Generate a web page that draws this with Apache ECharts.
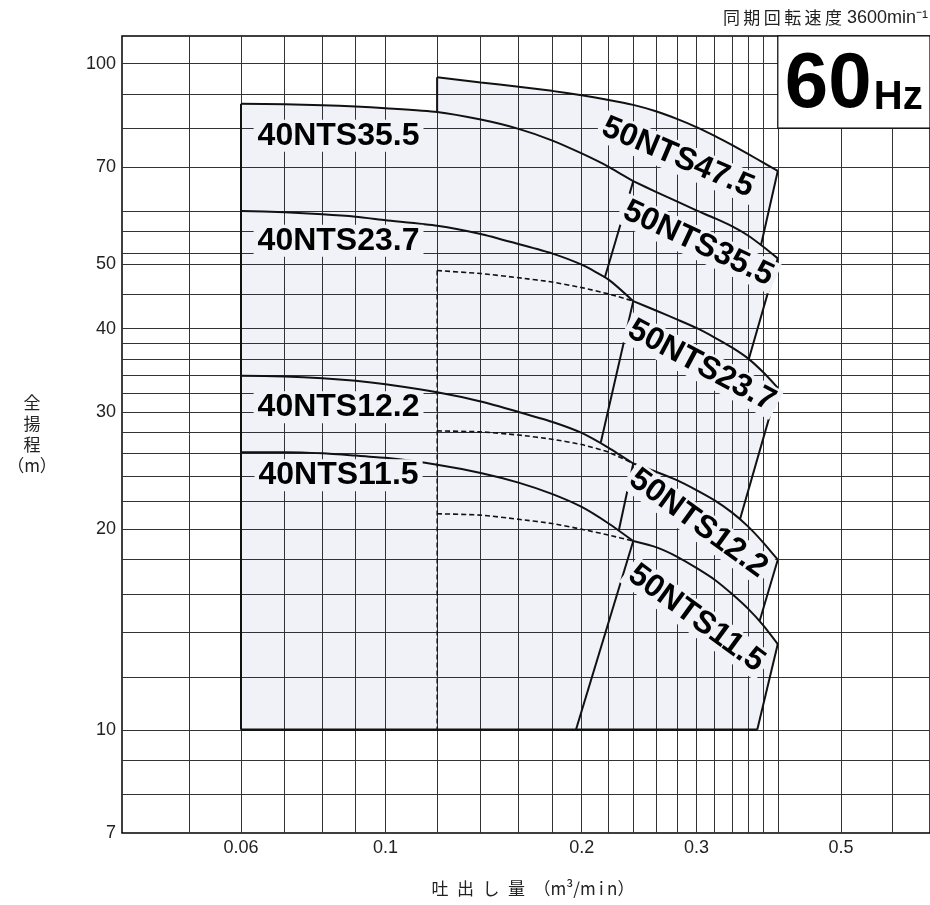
<!DOCTYPE html>
<html lang="ja">
<head>
<meta charset="utf-8">
<title>40NTS / 50NTS 性能曲線 60Hz</title>
<script src="https://cdn.jsdelivr.net/npm/echarts@6.0.0/dist/echarts.min.js"></script>
<style>
  html, body { margin: 0; padding: 0; background: #fff; }
  #chart { width: 930px; height: 905px; }
</style>
</head>
<body>
<div id="chart"></div>
<script>
// 目盛りラベル
const xLabelValues = [0.06, 0.1, 0.2, 0.3, 0.5];
const yLabelValues = [7, 10, 20, 30, 40, 50, 70, 100];

// 目盛り線
const xGridValues = [0.05, 0.06, 0.07, 0.08, 0.09, 0.1, 0.12, 0.14, 0.16, 0.18, 0.2,
  0.22, 0.24, 0.26, 0.28, 0.3, 0.32, 0.34, 0.36, 0.38, 0.4, 0.5, 0.6];
const yGridValues = [8, 9, 10, 12, 14, 16, 18, 20, 22, 24, 26, 28, 30, 32, 34, 36, 38,
  40, 45, 50, 52, 56, 60, 70, 80, 90, 100];

// 40NTS 性能曲線（吐出し量 m3/min → 全揚程 m）
const q40 = [0.06, 0.07, 0.08, 0.09, 0.1, 0.12, 0.14, 0.16, 0.18, 0.2, 0.22, 0.24];
const h40nts355 = [87.0, 86.9, 86.6, 86.2, 85.7, 84.6, 82.4, 79.8, 76.7, 73.3, 70.0, 66.6];
const h40nts237 = [60.1, 59.8, 59.4, 58.9, 58.2, 57.1, 55.5, 53.6, 51.9, 49.9, 47.4, 44.0];
const h40nts122 = [34.0, 33.9, 33.7, 33.4, 33.0, 32.1, 31.1, 30.0, 29.0, 27.9, 26.5, 25.1];
const h40nts115 = [26.1, 26.1, 26.0, 25.8, 25.6, 25.0, 24.3, 23.5, 22.6, 21.6, 20.4, 19.2];

// 50NTS47.5
const q475 = [0.12, 0.14, 0.16, 0.18, 0.2, 0.22, 0.24, 0.26, 0.28, 0.3, 0.32, 0.34, 0.36, 0.38, 0.4];
const h50nts475 = [95.4, 93.7, 92.3, 91.0, 89.6, 88.2, 86.7, 84.8, 82.6, 80.3, 77.9, 75.5, 73.2, 71.0, 69.0];

// 50NTS 性能曲線（実線部分）
const q50 = [0.24, 0.26, 0.28, 0.3, 0.32, 0.34, 0.36, 0.38, 0.4];
const h50nts355 = [66.6, 64.2, 62.1, 60.2, 58.6, 57.0, 55.2, 53.1, 51.0];
const h50nts237 = [44.0, 42.6, 41.3, 40.1, 38.8, 37.5, 36.1, 34.4, 32.6];
const h50nts122 = [25.1, 24.4, 23.7, 22.9, 22.1, 21.2, 20.2, 19.1, 18.0];
const h50nts115 = [19.2, 18.8, 18.2, 17.5, 16.8, 16.0, 15.2, 14.35, 13.45];

// 50NTS 性能曲線（破線部分）
const qDash = [0.12, 0.14, 0.16, 0.18, 0.2, 0.22, 0.24];
const h50nts237Dash = [48.9, 48.4, 47.7, 47.0, 46.1, 45.1, 44.0];
const h50nts122Dash = [28.1, 28.0, 27.7, 27.3, 26.8, 26.1, 25.1];
const h50nts115Dash = [21.1, 21.0, 20.7, 20.4, 20.0, 19.6, 19.2];

// 使用範囲の境界線
const edge40Left = [[0.06, 10], [0.06, 87.0]];
const edge475Left = [[0.12, 84.6], [0.12, 95.4]];
const edgeDashLeft = [[0.12, 48.9], [0.12, 10]];
const edgeBottom = [[0.06, 10], [0.372, 10]];
const edge40nts355 = [[0.24, 66.6], [0.217, 47.7]];
const edge40nts237 = [[0.24, 44.0], [0.214, 27.0]];
const edge40nts122 = [[0.24, 25.1], [0.228, 19.9]];
const edge40nts115 = [[0.24, 19.2], [0.196, 10]];
const edge50nts475 = [[0.4, 69.0], [0.377, 53.4]];
const edge50nts355 = [[0.4, 51.0], [0.361, 36.0]];
const edge50nts237 = [[0.4, 32.6], [0.35, 20.7]];
const edge50nts122 = [[0.4, 18.0], [0.375, 14.55]];
const edge50nts115 = [[0.4, 13.45], [0.372, 10]];

// 機種名の配置
const modelLabels = [
  { name: '40NTS35.5', q: 0.0847, h: 77.9, rotate: 0 },
  { name: '40NTS23.7', q: 0.0847, h: 54.2, rotate: 0 },
  { name: '40NTS12.2', q: 0.0847, h: 30.5, rotate: 0 },
  { name: '40NTS11.5', q: 0.0847, h: 24.1, rotate: 0 },
  { name: '50NTS47.5', q: 0.281, h: 72.3, rotate: -23 },
  { name: '50NTS35.5', q: 0.302, h: 53.7, rotate: -25 },
  { name: '50NTS23.7', q: 0.3055, h: 35.2, rotate: -28 },
  { name: '50NTS12.2', q: 0.302, h: 20.4, rotate: -36 },
  { name: '50NTS11.5', q: 0.300, h: 14.7, rotate: -36 }
];

const X_MIN = 0.0394, X_MAX = 0.685;
const Y_MIN = 7, Y_MAX = 110;
const FILL = '#f1f2f8';
const LATIN = '"Liberation Sans", Arial, sans-serif';
const CJK = '"Noto Sans CJK JP", sans-serif';

const pairs = (q, h) => q.map((v, i) => [v, h[i]]);

// 塗りつぶし範囲の外形
function buildOutline() {
  const pts = [[0.06, 10]];
  q40.forEach((q, i) => { if (q <= 0.12) pts.push([q, h40nts355[i]]); });
  q475.forEach((q, i) => pts.push([q, h50nts475[i]]));
  const steps = [
    [edge50nts475, h50nts355],
    [edge50nts355, h50nts237],
    [edge50nts237, h50nts122],
    [edge50nts122, h50nts115]
  ];
  steps.forEach(([edge, h]) => {
    pts.push(edge[1]);
    q50.forEach((q, i) => { if (q > edge[1][0]) pts.push([q, h[i]]); });
  });
  pts.push(edge50nts115[1]);
  return pts;
}
const outline = buildOutline();

const solidLine = (data, width) => ({
  type: 'line', data: data, showSymbol: false, symbol: 'none', silent: true,
  smooth: 0.2, z: 4,
  lineStyle: { color: '#111', width: width || 2 }
});
const dashLine = (data) => ({
  type: 'line', data: data, showSymbol: false, symbol: 'none', silent: true,
  smooth: 0.2, z: 4,
  lineStyle: { color: '#111', width: 1.6, type: [5, 3] }
});
const edgeLine = (data, width) => ({
  type: 'line', data: data, showSymbol: false, symbol: 'none', silent: true, z: 4,
  lineStyle: { color: '#111', width: width || 2 }
});

const chart = echarts.init(document.getElementById('chart'), null, { renderer: 'canvas' });

const option = {
  animation: false,
  backgroundColor: '#fff',
  textStyle: { fontFamily: LATIN },
  grid: {
    left: 122, right: 0, top: 36, bottom: 72,
    show: true, borderColor: '#000', borderWidth: 1.5, backgroundColor: 'transparent'
  },
  xAxis: {
    type: 'log', logBase: 10, min: X_MIN, max: X_MAX,
    name: '吐\u2002出\u2002し\u2002量\u2002（m³/m\u2009i\u2009n）',
    nameLocation: 'middle', nameGap: 47,
    nameTextStyle: { fontFamily: CJK, fontSize: 17, color: '#222', padding: [0, 0, 0, 14] },
    axisLine: { show: false },
    axisTick: { show: false, customValues: xGridValues },
    axisLabel: {
      customValues: xLabelValues, margin: 6, fontSize: 18, color: '#222', fontFamily: LATIN,
      formatter: v => String(Math.round(v * 1000) / 1000)
    },
    splitLine: { show: true, lineStyle: { color: '#333', width: 1 } },
    minorTick: { show: false }, minorSplitLine: { show: false }
  },
  yAxis: {
    type: 'log', logBase: 10, min: Y_MIN, max: Y_MAX,
    name: '全\n揚\n程\n（m）',
    nameLocation: 'middle', nameRotate: 0, nameGap: 90,
    nameTextStyle: {
      fontFamily: CJK, fontSize: 17, lineHeight: 21, color: '#222',
      align: 'center', verticalAlign: 'middle'
    },
    axisLine: { show: false },
    axisTick: { show: false, customValues: yGridValues },
    axisLabel: {
      customValues: yLabelValues, margin: 6, fontSize: 18, color: '#222', fontFamily: LATIN,
      formatter: v => String(Math.round(v))
    },
    splitLine: { show: true, lineStyle: { color: '#333', width: 1 } },
    minorTick: { show: false }, minorSplitLine: { show: false }
  },
  graphic: [{
    type: 'text', right: 2, top: 9, silent: true,
    style: {
      text: '{j|同\u2009期\u2009回\u2009転\u2009速\u2009度}{n|\u00a03600min⁻¹}',
      rich: {
        j: { fontFamily: CJK, fontSize: 17, fill: '#222' },
        n: { fontFamily: LATIN, fontSize: 18, fill: '#222' }
      }
    }
  }],
  series: [
    // 使用範囲の塗り
    {
      type: 'custom', silent: true, z: 1,
      data: outline,
      renderItem: (params, api) => {
        if (params.dataIndex !== 0) return null;
        return {
          type: 'polygon',
          shape: { points: outline.map(p => api.coord(p)) },
          style: { fill: 'rgba(15, 31, 134, 0.058)', stroke: null }
        };
      }
    },
    // 性能曲線
    solidLine(pairs(q40, h40nts355)),
    solidLine(pairs(q40, h40nts237)),
    solidLine(pairs(q40, h40nts122)),
    solidLine(pairs(q40, h40nts115)),
    solidLine(pairs(q475, h50nts475)),
    solidLine(pairs(q50, h50nts355)),
    solidLine(pairs(q50, h50nts237)),
    solidLine(pairs(q50, h50nts122)),
    solidLine(pairs(q50, h50nts115)),
    dashLine(pairs(qDash, h50nts237Dash)),
    dashLine(pairs(qDash, h50nts122Dash)),
    dashLine(pairs(qDash, h50nts115Dash)),
    // 境界線
    edgeLine(edge40Left),
    edgeLine(edge475Left),
    {
      type: 'line', data: edgeDashLeft, showSymbol: false, symbol: 'none', silent: true, z: 4,
      lineStyle: { color: '#111', width: 1.4, type: [5, 3] }
    },
    edgeLine(edgeBottom, 2.5),
    edgeLine(edge40nts355),
    edgeLine(edge40nts237),
    edgeLine(edge40nts122),
    edgeLine(edge40nts115),
    edgeLine(edge50nts475),
    edgeLine(edge50nts355),
    edgeLine(edge50nts237),
    edgeLine(edge50nts122),
    edgeLine(edge50nts115),
    // 60Hz 表示枠
    {
      type: 'custom', silent: true, z: 6,
      data: [[0.4, 80]],
      renderItem: (params, api) => {
        const p0 = api.coord([0.4, Y_MAX]);
        const p1 = api.coord([X_MAX, 80]);
        return {
          type: 'group',
          children: [
            {
              type: 'rect',
              shape: { x: p0[0], y: p0[1], width: p1[0] - p0[0], height: p1[1] - p0[1] },
              style: { fill: '#fff', stroke: '#000', lineWidth: 1.2 }
            },
            {
              type: 'text', x: p0[0] + 7, y: p0[1] + 49,
              style: {
                text: '60', fontFamily: LATIN, fontWeight: 'bold', fontSize: 78,
                fill: '#000', verticalAlign: 'middle', align: 'left'
              }
            },
            {
              type: 'text', x: p0[0] + 96, y: p0[1] + 61.5,
              style: {
                text: 'Hz', fontFamily: LATIN, fontWeight: 'bold', fontSize: 40,
                fill: '#000', verticalAlign: 'middle', align: 'left'
              }
            }
          ]
        };
      }
    },
    // 機種名
    {
      type: 'scatter', silent: true, z: 7,
      symbolSize: 0,
      itemStyle: { opacity: 1 },
      data: modelLabels.map(m => ({ name: m.name, value: [m.q, m.h], label: { rotate: m.rotate } })),
      label: {
        show: true, position: 'inside', formatter: '{b}', opacity: 1,
        fontFamily: LATIN, fontWeight: 'bold', fontSize: 32, color: '#000',
        textBorderWidth: 0,
        backgroundColor: FILL, padding: [0, 4]
      }
    }
  ]
};

chart.setOption(option);
</script>
</body>
</html>
